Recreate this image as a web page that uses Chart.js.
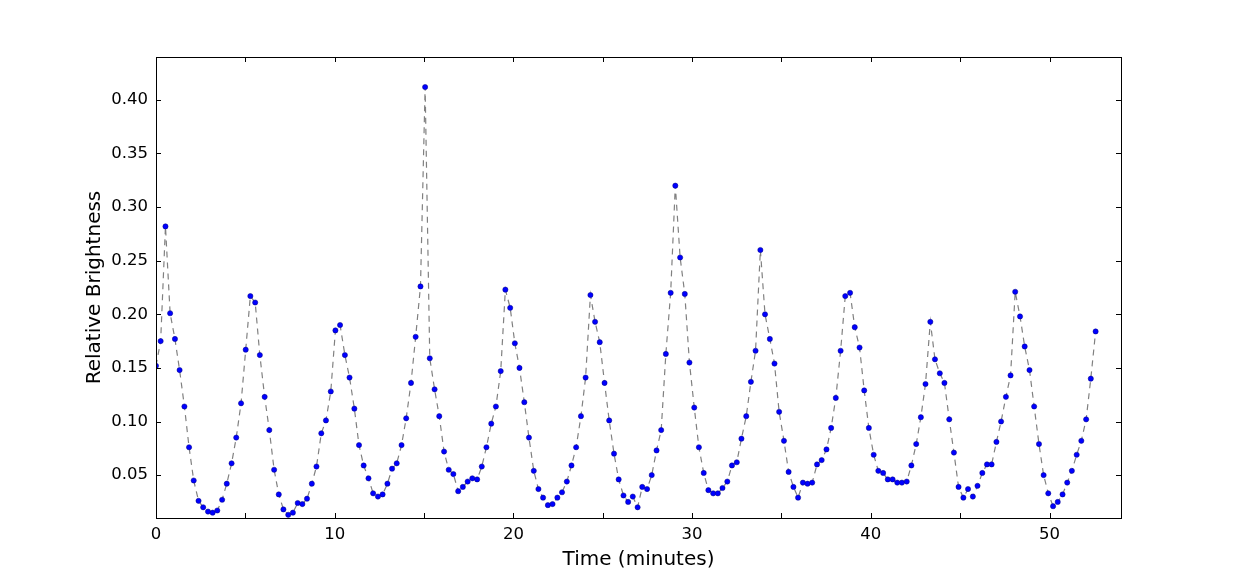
<!DOCTYPE html>
<html>
<head>
<meta charset="utf-8">
<script src="https://cdn.jsdelivr.net/npm/chart.js@4/dist/chart.umd.min.js"></script>
<style>
  html, body { margin: 0; padding: 0; background: #fff; }
  #wrap { width: 1245px; height: 576px; }
</style>
</head>
<body>
<div id="wrap"><canvas id="brightnessChart" width="1245" height="576"></canvas></div>
<script>
// sample times (minutes)
const times = [
    0.00, 0.26, 0.53, 0.79, 1.06, 1.32, 1.59, 1.85, 2.11, 2.38,
    2.64, 2.91, 3.17, 3.43, 3.70, 3.96, 4.23, 4.49, 4.76, 5.02,
    5.28, 5.55, 5.81, 6.08, 6.34, 6.61, 6.87, 7.13, 7.40, 7.66,
    7.93, 8.19, 8.45, 8.72, 8.98, 9.25, 9.51, 9.78, 10.04, 10.30,
    10.57, 10.83, 11.10, 11.36, 11.62, 11.89, 12.15, 12.42, 12.68, 12.95,
    13.21, 13.47, 13.74, 14.00, 14.27, 14.53, 14.80, 15.06, 15.32, 15.59,
    15.85, 16.12, 16.38, 16.64, 16.91, 17.17, 17.44, 17.70, 17.97, 18.23,
    18.49, 18.76, 19.02, 19.29, 19.55, 19.82, 20.08, 20.34, 20.61, 20.87,
    21.14, 21.40, 21.66, 21.93, 22.19, 22.46, 22.72, 22.99, 23.25, 23.51,
    23.78, 24.04, 24.31, 24.57, 24.83, 25.10, 25.36, 25.63, 25.89, 26.16,
    26.42, 26.68, 26.95, 27.21, 27.48, 27.74, 28.01, 28.27, 28.53, 28.80,
    29.06, 29.33, 29.59, 29.85, 30.12, 30.38, 30.65, 30.91, 31.18, 31.44,
    31.70, 31.97, 32.23, 32.50, 32.76, 33.03, 33.29, 33.55, 33.82, 34.08,
    34.35, 34.61, 34.87, 35.14, 35.40, 35.67, 35.93, 36.20, 36.46, 36.72,
    36.99, 37.25, 37.52, 37.78, 38.04, 38.31, 38.57, 38.84, 39.10, 39.37,
    39.63, 39.89, 40.16, 40.42, 40.69, 40.95, 41.22, 41.48, 41.74, 42.01,
    42.27, 42.54, 42.80, 43.06, 43.33, 43.59, 43.86, 44.12, 44.39, 44.65,
    44.91, 45.18, 45.44, 45.71, 45.97, 46.24, 46.50, 46.76, 47.03, 47.29,
    47.56, 47.82, 48.08, 48.35, 48.61, 48.88, 49.14, 49.41, 49.67, 49.93,
    50.20, 50.46, 50.73, 50.99, 51.25, 51.52, 51.78, 52.05, 52.31, 52.58
];

// relative brightness at each sample
const brightness = [
    0.152, 0.175, 0.282, 0.201, 0.177, 0.148, 0.114, 0.076, 0.045, 0.026,
    0.020, 0.016, 0.015, 0.017, 0.027, 0.042, 0.061, 0.085, 0.117, 0.167,
    0.217, 0.211, 0.162, 0.123, 0.092, 0.055, 0.032, 0.018, 0.013, 0.015,
    0.024, 0.023, 0.028, 0.042, 0.058, 0.089, 0.101, 0.128, 0.185, 0.190,
    0.162, 0.141, 0.112, 0.078, 0.059, 0.047, 0.033, 0.030, 0.032, 0.042,
    0.056, 0.061, 0.078, 0.103, 0.136, 0.179, 0.226, 0.412, 0.159, 0.130,
    0.105, 0.072, 0.055, 0.051, 0.035, 0.039, 0.044, 0.047, 0.046, 0.058,
    0.076, 0.098, 0.114, 0.147, 0.223, 0.206, 0.173, 0.150, 0.118, 0.085,
    0.054, 0.037, 0.029, 0.022, 0.023, 0.029, 0.034, 0.044, 0.059, 0.076,
    0.105, 0.141, 0.218, 0.193, 0.174, 0.136, 0.101, 0.070, 0.046, 0.031,
    0.025, 0.030, 0.020, 0.039, 0.037, 0.050, 0.073, 0.092, 0.163, 0.220,
    0.320, 0.253, 0.219, 0.155, 0.113, 0.076, 0.052, 0.036, 0.033, 0.033,
    0.038, 0.044, 0.059, 0.062, 0.084, 0.105, 0.137, 0.166, 0.260, 0.200,
    0.177, 0.154, 0.109, 0.082, 0.053, 0.039, 0.029, 0.043, 0.042, 0.043,
    0.060, 0.064, 0.074, 0.094, 0.122, 0.166, 0.217, 0.220, 0.188, 0.169,
    0.129, 0.094, 0.069, 0.054, 0.052, 0.046, 0.046, 0.043, 0.043, 0.044,
    0.059, 0.079, 0.104, 0.135, 0.193, 0.158, 0.145, 0.136, 0.102, 0.071,
    0.039, 0.029, 0.037, 0.030, 0.040, 0.052, 0.060, 0.060, 0.081, 0.100,
    0.123, 0.143, 0.221, 0.198, 0.170, 0.148, 0.114, 0.079, 0.050, 0.033,
    0.021, 0.025, 0.032, 0.043, 0.054, 0.069, 0.082, 0.102, 0.140, 0.184
];

const xTicks = [0, 5, 10, 15, 20, 25, 30, 35, 40, 45, 50];
const xTickLabels = ['0', '', '10', '', '20', '', '30', '', '40', '', '50'];
const yTicks = [0.05, 0.10, 0.15, 0.20, 0.25, 0.30, 0.35, 0.40];
const yTickLabels = ['0.05', '0.10', '0.15', '0.20', '0.25', '0.30', '0.35', '0.40'];

const FONT = "'DejaVu Sans', sans-serif";

// matplotlib-style box with inward ticks on all four sides
const framePlugin = {
    id: 'frame',
    afterDraw(chart) {
        const { ctx, chartArea: a, scales } = chart;
        const tick = 5;
        ctx.save();
        ctx.strokeStyle = '#000';
        ctx.lineWidth = 1;
        ctx.beginPath();
        xTicks.forEach(v => {
            const px = Math.round(scales.x.getPixelForValue(v)) + 0.5;
            ctx.moveTo(px, a.bottom);
            ctx.lineTo(px, a.bottom - tick);
            ctx.moveTo(px, a.top);
            ctx.lineTo(px, a.top + tick);
        });
        yTicks.forEach(v => {
            const py = Math.round(scales.y.getPixelForValue(v)) + 0.5;
            ctx.moveTo(a.left, py);
            ctx.lineTo(a.left + tick, py);
            ctx.moveTo(a.right, py);
            ctx.lineTo(a.right - tick, py);
        });
        ctx.stroke();
        ctx.strokeRect(Math.round(a.left) + 0.5, Math.round(a.top) + 0.5,
            Math.round(a.right - a.left), Math.round(a.bottom - a.top));
        ctx.restore();
    }
};

const ctx = document.getElementById('brightnessChart').getContext('2d');

new Chart(ctx, {
    type: 'line',
    data: {
        datasets: [{
            data: times.map((t, i) => ({ x: t, y: brightness[i] })),
            borderColor: '#808080',
            borderWidth: 1.2,
            borderDash: [6, 5],
            tension: 0,
            fill: false,
            pointRadius: 2.6,
            pointBackgroundColor: '#0000ff',
            pointBorderColor: '#000080',
            pointBorderWidth: 0.5
        }]
    },
    options: {
        responsive: false,
        animation: false,
        events: [],
        layout: {
            padding: { left: 0, right: 124, top: 57, bottom: 0 }
        },
        plugins: {
            legend: { display: false },
            tooltip: { enabled: false }
        },
        scales: {
            x: {
                type: 'linear',
                min: 0,
                max: 54,
                grid: { display: false, drawTicks: false },
                border: { display: false },
                afterBuildTicks: s => { s.ticks = xTicks.map(v => ({ value: v })); },
                afterFit: s => { s.height = 58; },
                ticks: {
                    color: '#000',
                    padding: 7,
                    maxRotation: 0,
                    autoSkip: false,
                    font: { family: FONT, size: 16.5 },
                    callback: v => xTickLabels[xTicks.indexOf(v)]
                },
                title: {
                    display: true,
                    text: 'Time (minutes)',
                    color: '#000',
                    padding: { top: 0, bottom: 4 },
                    font: { family: FONT, size: 20 }
                }
            },
            y: {
                type: 'linear',
                min: 0.01,
                max: 0.44,
                grid: { display: false, drawTicks: false },
                border: { display: false },
                afterBuildTicks: s => { s.ticks = yTicks.map(v => ({ value: v })); },
                afterFit: s => { s.width = 156; },
                ticks: {
                    color: '#000',
                    padding: 8,
                    autoSkip: false,
                    font: { family: FONT, size: 16.5 },
                    callback: v => yTickLabels[yTicks.indexOf(v)]
                },
                title: {
                    display: true,
                    text: 'Relative Brightness',
                    color: '#000',
                    padding: { top: 83, bottom: 0 },
                    font: { family: FONT, size: 20 }
                }
            }
        }
    },
    plugins: [framePlugin]
});
</script>
</body>
</html>
